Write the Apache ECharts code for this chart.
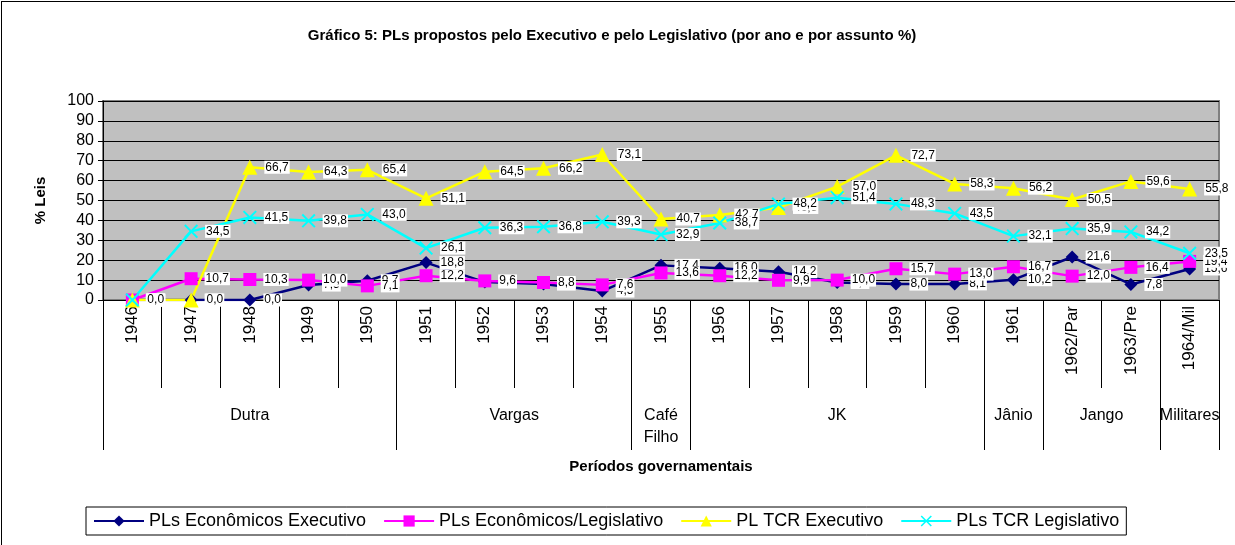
<!DOCTYPE html>
<html>
<head>
<meta charset="utf-8">
<script src="https://cdn.jsdelivr.net/npm/echarts@6/dist/echarts.min.js"></script>
<style>
  html, body { margin: 0; padding: 0; background: #fff; }
  #frame {
    position: absolute; left: 1px; top: 1px; width: 1240px; height: 550px;
    border-left: 1px solid #000; border-top: 1px solid #000;
  }
  #chart { position: absolute; left: 0; top: 0; width: 1235px; height: 545px; }
</style>
</head>
<body>
<div id="frame"></div>
<div id="chart"></div>
<script>
// categories (years) and government periods
const years = ["1946", "1947", "1948", "1949", "1950", "1951", "1952", "1953", "1954", "1955",
  "1956", "1957", "1958", "1959", "1960", "1961", "1962/Par", "1963/Pre", "1964/Mil"];
const periods = ["Dutra", "Vargas", "Café\nFilho", "JK", "Jânio", "Jango", "Militares"];
const periodSizes = [5, 4, 1, 5, 1, 2, 1];

// series values (%)
const econExecutivo = [0, 0, 0, 7.5, 9.7, 18.8, 9.0, 8.0, 4.5, 17.4, 16.0, 14.2, 8.8, 8.0, 8.1, 10.2, 21.6, 7.8, 15.6];
const econLegislativo = [0, 10.7, 10.3, 10.0, 7.1, 12.2, 9.6, 8.8, 7.6, 13.6, 12.2, 9.9, 10.0, 15.7, 13.0, 16.7, 12.0, 16.4, 19.4];
const tcrExecutivo = [0, 0, 66.7, 64.3, 65.4, 51.1, 64.5, 66.2, 73.1, 40.7, 42.7, 46.5, 57.0, 72.7, 58.3, 56.2, 50.5, 59.6, 55.8];
const tcrLegislativo = [0, 34.5, 41.5, 39.8, 43.0, 26.1, 36.3, 36.8, 39.3, 32.9, 38.7, 48.2, 51.4, 48.3, 43.5, 32.1, 35.9, 34.2, 23.5];

const yTicks = [0, 10, 20, 30, 40, 50, 60, 70, 80, 90, 100];

// group boundaries and centers on a 0..19 scale
const bounds = [0];
const centers = [];
periodSizes.forEach((n) => {
  const start = bounds[bounds.length - 1];
  centers.push(start + n / 2);
  bounds.push(start + n);
});

const FONT = "'Liberation Sans', Arial, sans-serif";
const xShape = "path://M0,2 L2,0 L10,8 L18,0 L20,2 L12,10 L20,18 L18,20 L10,12 L2,20 L0,18 L8,10 Z";

const fmt = (p) => p.value.toFixed(1).replace(".", ",");

const makeSeries = (name, data, color, symbol, size) => ({
  name: name,
  type: "line",
  data: data,
  symbol: symbol,
  symbolSize: size,
  lineStyle: { color: color, width: 2.5 },
  itemStyle: { color: color },
  label: {
    show: true,
    position: "right",
    distance: 7,
    formatter: fmt,
    color: "#000",
    fontSize: 12,
    fontFamily: FONT,
    backgroundColor: "#fff",
    padding: [1, 1, 0, 1],
  },
});

const chart = echarts.init(document.getElementById("chart"));

const option = {
  animation: false,
  textStyle: { fontFamily: FONT },
  title: {
    text: "Gráfico 5: PLs propostos pelo Executivo e pelo Legislativo (por ano e por assunto %)",
    left: 607,
    textAlign: "center",
    top: 23,
    textStyle: { fontSize: 15, fontWeight: "bold", color: "#000", fontFamily: FONT },
  },
  legend: {
    left: 86,
    top: 507,
    padding: [5, 7, 5, 7],
    itemGap: 17,
    itemWidth: 50,
    itemHeight: 14,
    borderColor: "#000",
    borderWidth: 1,
    textStyle: { fontSize: 18, color: "#000", fontFamily: FONT },
    data: ["PLs Econômicos Executivo", "PLs Econômicos/Legislativo", "PL TCR Executivo", "PLs TCR Legislativo"],
  },
  grid: {
    left: 103,
    right: 16,
    top: 101,
    bottom: 245,
    show: true,
    backgroundColor: "#C0C0C0",
    borderColor: "#808080",
    borderWidth: 2,
  },
  xAxis: [
    {
      type: "category",
      data: years,
      boundaryGap: true,
      axisLine: { lineStyle: { color: "#000", width: 1 } },
      axisTick: { show: true, interval: 0, length: 88, lineStyle: { color: "#000" } },
      axisLabel: { interval: 0, rotate: 90, margin: 6, fontSize: 17, color: "#000", fontFamily: FONT },
      splitLine: { show: false },
    },
    {
      type: "value",
      min: 0,
      max: years.length,
      position: "bottom",
      axisLine: { show: false },
      axisTick: { show: true, customValues: bounds, length: 150, lineStyle: { color: "#000" } },
      axisLabel: {
        customValues: centers,
        formatter: (v) => periods[centers.indexOf(v)] || "",
        margin: 105,
        fontSize: 16,
        lineHeight: 22,
        color: "#000",
        fontFamily: FONT,
      },
      splitLine: { show: false },
      name: "Períodos governamentais",
      nameLocation: "middle",
      nameGap: 159,
      nameTextStyle: { fontSize: 15, fontWeight: "bold", color: "#000", fontFamily: FONT },
    },
  ],
  yAxis: {
    type: "value",
    min: yTicks[0],
    max: yTicks[yTicks.length - 1],
    interval: 10,
    name: "% Leis",
    nameLocation: "middle",
    nameGap: 55,
    nameRotate: 90,
    nameTextStyle: { fontSize: 15, fontWeight: "bold", color: "#000", fontFamily: FONT },
    axisLine: { show: true, lineStyle: { color: "#000" } },
    axisTick: { show: true, length: 5, lineStyle: { color: "#000" } },
    axisLabel: { fontSize: 16, color: "#000", margin: 9, fontFamily: FONT },
    splitLine: { show: true, lineStyle: { color: "#000", width: 1 } },
  },
  series: [
    makeSeries("PLs Econômicos Executivo", econExecutivo, "#000080", "diamond", 13),
    makeSeries("PLs Econômicos/Legislativo", econLegislativo, "#FF00FF", "rect", 13),
    makeSeries("PL TCR Executivo", tcrExecutivo, "#FFFF00", "triangle", 15),
    makeSeries("PLs TCR Legislativo", tcrLegislativo, "#00FFFF", xShape, 14),
  ],
};

chart.setOption(option);
</script>
</body>
</html>
